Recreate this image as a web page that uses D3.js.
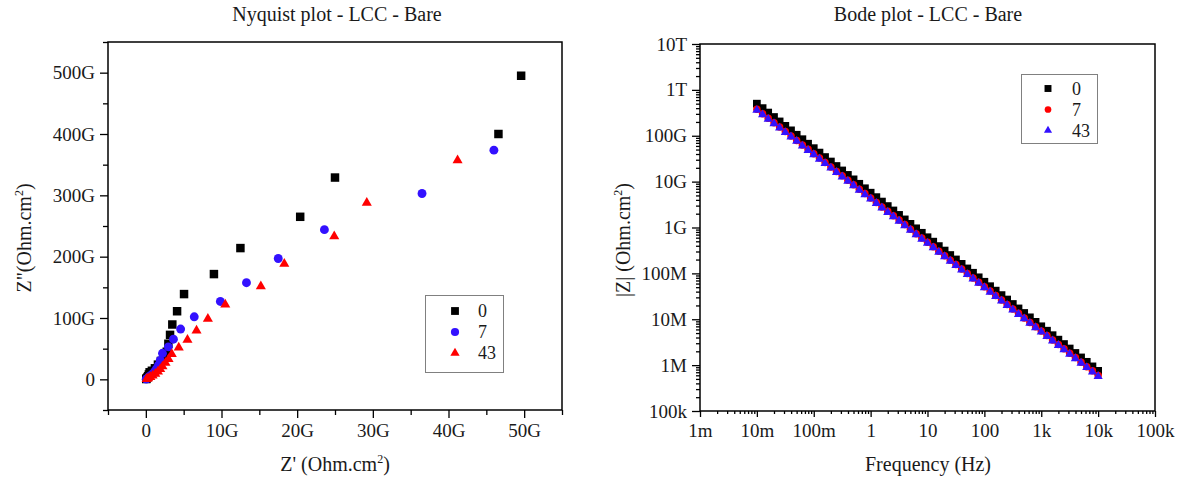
<!DOCTYPE html>
<html>
<head>
<meta charset="utf-8">
<script src="https://cdn.jsdelivr.net/npm/d3@7"></script>
<style>
  html, body { margin: 0; padding: 0; background: #fff; }
  svg { display: block; }
  text { font-family: "Liberation Serif", "Times New Roman", serif; fill: #1a1a1a; }
</style>
</head>
<body>
<svg id="chart" width="1186" height="482"></svg>
<script>
// ---------------- DATA ----------------
const seriesNames = ["0", "7", "43"];

// Nyquist (values in G Ohm.cm2)
const nyqZre0 = [49.6, 46.6, 25.0, 20.4, 12.5, 9.0, 5.05, 4.13, 3.5, 3.2, 2.98, 2.77, 2.4, 2.0, 1.6, 1.2, 0.8, 0.5, 0.4, 0.3, 0.2, 0.1, 0.05];
const nyqZim0 = [495, 400, 329, 265, 214, 171.6, 139, 111, 89.4, 72.5, 58, 45, 37, 30, 24, 18, 14, 11.5, 8, 5, 3, 1.5, 0.5];
const nyqZre7 = [46.0, 36.5, 23.6, 17.5, 13.3, 9.85, 6.4, 4.6, 3.65, 2.98, 2.2, 1.9, 1.67, 1.4, 1.2, 0.9, 0.6, 0.35, 0.15, 0.05];
const nyqZim7 = [373.7, 303, 244, 197, 157.5, 127, 102, 82, 65.4, 53, 42.5, 31, 23, 17, 13, 9, 6, 3.5, 1.2, 0.3];
const nyqZre43 = [41.2, 29.2, 24.9, 18.3, 15.2, 10.5, 8.2, 6.7, 5.5, 4.35, 3.43, 3.0, 2.6, 2.2, 1.9, 1.6, 1.25, 0.9, 0.6, 0.3, 0.1];
const nyqZim43 = [357, 287.6, 233, 188.5, 151.5, 122, 98.7, 79.6, 64.4, 51.8, 41, 33, 27, 21, 16.5, 12.5, 9, 6, 3.5, 1.5, 0.4];

const nyqXTicks = [0, 10, 20, 30, 40, 50];
const nyqXTickLabels = ["0", "10G", "20G", "30G", "40G", "50G"];
const nyqXMinor = [-5, 5, 15, 25, 35, 45, 55];
const nyqYTicks = [0, 100, 200, 300, 400, 500];
const nyqYTickLabels = ["0", "100G", "200G", "300G", "400G", "500G"];
const nyqYMinor = [-50, 50, 150, 250, 350, 450, 550];

// Bode
const freqs = [0.01,0.0126,0.0158,0.02,0.0251,0.0316,0.0398,0.0501,0.0631,0.0794,
  0.1,0.126,0.158,0.2,0.251,0.316,0.398,0.501,0.631,0.794,
  1,1.26,1.58,2,2.51,3.16,3.98,5.01,6.31,7.94,
  10,12.6,15.8,20,25.1,31.6,39.8,50.1,63.1,79.4,
  100,126,158,200,251,316,398,501,631,794,
  1000,1260,1580,2000,2510,3160,3980,5010,6310,7940,
  10000];
const zmod0 = [5.0e11,4.0e11,3.2e11,2.56e11,2.05e11,1.64e11,1.31e11,1.05e11,8.4e10,6.7e10,
  5.36e10,4.29e10,3.43e10,2.74e10,2.19e10,1.75e10,1.40e10,1.12e10,8.96e9,7.16e9,
  5.73e9,4.59e9,3.67e9,2.93e9,2.35e9,1.88e9,1.50e9,1.20e9,9.59e8,7.66e8,
  6.13e8,4.91e8,3.93e8,3.14e8,2.51e8,2.01e8,1.61e8,1.28e8,1.03e8,8.20e7,
  6.56e7,5.25e7,4.20e7,3.36e7,2.69e7,2.15e7,1.72e7,1.37e7,1.10e7,8.77e6,
  7.02e6,5.62e6,4.49e6,3.59e6,2.88e6,2.30e6,1.84e6,1.47e6,1.18e6,9.38e5,
  7.5e5];
const zmod7 = [3.77e11,3.02e11,2.41e11,1.93e11,1.55e11,1.24e11,9.9e10,7.9e10,6.3e10,5.1e10,
  4.07e10,3.26e10,2.60e10,2.08e10,1.67e10,1.34e10,1.07e10,8.5e9,6.8e9,5.5e9,
  4.40e9,3.52e9,2.81e9,2.25e9,1.80e9,1.45e9,1.16e9,9.2e8,7.3e8,5.9e8,
  4.75e8,3.80e8,3.04e8,2.43e8,1.94e8,1.56e8,1.25e8,9.9e7,7.9e7,6.4e7,
  5.13e7,4.11e7,3.28e7,2.62e7,2.10e7,1.68e7,1.35e7,1.07e7,8.5e6,6.9e6,
  5.54e6,4.44e6,3.54e6,2.83e6,2.27e6,1.81e6,1.46e6,1.16e6,9.2e5,7.5e5,
  5.98e5];
const zmod43 = [3.6e11,2.88e11,2.30e11,1.84e11,1.48e11,1.18e11,9.5e10,7.6e10,6.0e10,4.8e10,
  3.89e10,3.11e10,2.49e10,1.99e10,1.59e10,1.27e10,1.02e10,8.2e9,6.5e9,5.2e9,
  4.20e9,3.36e9,2.69e9,2.15e9,1.72e9,1.38e9,1.10e9,8.8e8,7.0e8,5.6e8,
  4.54e8,3.63e8,2.90e8,2.32e8,1.86e8,1.49e8,1.19e8,9.5e7,7.6e7,6.1e7,
  4.90e7,3.92e7,3.14e7,2.51e7,2.01e7,1.61e7,1.28e7,1.03e7,8.2e6,6.6e6,
  5.29e6,4.24e6,3.39e6,2.71e6,2.17e6,1.73e6,1.39e6,1.11e6,8.9e5,7.1e5,
  5.71e5];

const bodeXTicks = [1e-3, 1e-2, 1e-1, 1, 10, 100, 1e3, 1e4, 1e5];
const bodeXTickLabels = ["1m", "10m", "100m", "1", "10", "100", "1k", "10k", "100k"];
const bodeYTicks = [1e5, 1e6, 1e7, 1e8, 1e9, 1e10, 1e11, 1e12, 1e13];
const bodeYTickLabels = ["100k", "1M", "10M", "100M", "1G", "10G", "100G", "1T", "10T"];

// ---------------- DRAW ----------------
const svg = d3.select("#chart");
const BLACK = "#000000", BLUE = "#3311ff", RED = "#ff0000";
const TICK_FONT = 19;
const FONT = '"Liberation Serif", "Times New Roman", serif';

function minorLog(lo, hi) {
  const out = [];
  for (let e = lo; e < hi; e++) for (let m = 2; m <= 9; m++) out.push(m * Math.pow(10, e));
  return out;
}

function drawFrame(g, x0, x1, y0, y1) {
  g.append("rect").attr("x", x0).attr("y", y0).attr("width", x1 - x0).attr("height", y1 - y0)
    .attr("fill", "none").attr("stroke", "#000").attr("stroke-width", 1.5);
}

function styleAxis(sel) {
  sel.select(".domain").remove();
  sel.attr("font-family", FONT);
  sel.selectAll(".tick line").attr("stroke", "#000").attr("stroke-width", 1.3);
  sel.selectAll(".tick text").style("font-size", TICK_FONT + "px")
    .style("font-family", FONT).attr("fill", "#1a1a1a");
}

function bottomAxis(g, scale, yPos, ticks, labels, minor, majorLen, minorLen, labelBase) {
  const ax = g.append("g").attr("transform", `translate(0,${yPos})`)
    .call(d3.axisBottom(scale).tickValues(ticks).tickFormat((d, i) => labels[i]).tickSize(majorLen).tickSizeOuter(0));
  styleAxis(ax);
  ax.selectAll(".tick text").attr("y", labelBase - yPos).attr("dy", 0);
  const mi = g.append("g").attr("transform", `translate(0,${yPos})`)
    .call(d3.axisBottom(scale).tickValues(minor).tickFormat("").tickSize(minorLen).tickSizeOuter(0));
  styleAxis(mi);
}

function leftAxis(g, scale, xPos, ticks, labels, minor, majorLen, minorLen, pad) {
  const ax = g.append("g").attr("transform", `translate(${xPos},0)`)
    .call(d3.axisLeft(scale).tickValues(ticks).tickFormat((d, i) => labels[i]).tickSize(majorLen).tickPadding(pad).tickSizeOuter(0));
  styleAxis(ax);
  const mi = g.append("g").attr("transform", `translate(${xPos},0)`)
    .call(d3.axisLeft(scale).tickValues(minor).tickFormat("").tickSize(minorLen).tickSizeOuter(0));
  styleAxis(mi);
}

function axisTitle(g, x, y, main, tail, rotate) {
  const t = g.append("text").attr("text-anchor", "middle").style("font-size", "20px").style("font-family", FONT)
    .attr("transform", rotate ? `translate(${x},${y}) rotate(-90)` : `translate(${x},${y})`);
  t.append("tspan").text(main);
  t.append("tspan").attr("dy", -8).style("font-size", "12px").text("2");
  t.append("tspan").attr("dy", 8).text(tail);
}

function sym(type, size) { return d3.symbol().type(type).size(size)(); }

// ---- Nyquist ----
const nL = 108, nR = 562, nT = 42, nB = 410;
const nx = d3.scaleLinear().domain([-5, 55]).range([nL, nR]);
const ny = d3.scaleLinear().domain([-50, 550]).range([nB, nT]);
const gN = svg.append("g");

gN.append("text").attr("x", 337).attr("y", 21).attr("text-anchor", "middle")
  .style("font-size", "20px").style("font-family", FONT).text("Nyquist plot - LCC - Bare");

bottomAxis(gN, nx, nB, nyqXTicks, nyqXTickLabels, nyqXMinor, 8, 5, 437);
leftAxis(gN, ny, nL, nyqYTicks, nyqYTickLabels, nyqYMinor, 8, 5, 5);
drawFrame(gN, nL, nR, nT, nB);
axisTitle(gN, 335, 471, "Z' (Ohm.cm", ")", false);
axisTitle(gN, 31, 238, 'Z"(Ohm.cm', ")", true);

const nyqSeries = [
  { re: nyqZre0, im: nyqZim0, shape: d3.symbolSquare, size: 72, color: BLACK },
  { re: nyqZre7, im: nyqZim7, shape: d3.symbolCircle, size: 62, color: BLUE },
  { re: nyqZre43, im: nyqZim43, shape: d3.symbolTriangle, size: 44, color: RED }
];
nyqSeries.forEach(s => {
  gN.append("g").selectAll("path").data(s.re.map((r, i) => [r, s.im[i]])).join("path")
    .attr("d", sym(s.shape, s.size)).attr("fill", s.color)
    .attr("transform", d => `translate(${nx(d[0])},${ny(d[1])})`);
});

// Nyquist legend
const lgN = gN.append("g");
lgN.append("rect").attr("x", 425.5).attr("y", 295.5).attr("width", 78).attr("height", 77)
  .attr("fill", "#fff").attr("stroke", "#808080").attr("stroke-width", 1);
nyqSeries.forEach((s, i) => {
  const yy = 311 + i * 21;
  lgN.append("path").attr("d", sym(s.shape, s.size * 0.85)).attr("fill", s.color).attr("transform", `translate(455,${yy})`);
  lgN.append("text").attr("x", 478).attr("y", yy + 6).style("font-size", "18px").style("font-family", FONT).text(seriesNames[i]);
});

// ---- Bode ----
const bL = 700, bR = 1155, bT = 44, bB = 411;
const bx = d3.scaleLog().domain([1e-3, 1e5]).range([bL, bR]);
const by = d3.scaleLog().domain([1e5, 1e13]).range([bB, bT]);
const gB = svg.append("g");

gB.append("text").attr("x", 928).attr("y", 21).attr("text-anchor", "middle")
  .style("font-size", "20px").style("font-family", FONT).text("Bode plot - LCC - Bare");

bottomAxis(gB, bx, bB, bodeXTicks, bodeXTickLabels, minorLog(-3, 5), 6, 3, 437);
leftAxis(gB, by, bL, bodeYTicks, bodeYTickLabels, minorLog(5, 13), 8, 4, 5);
drawFrame(gB, bL, bR, bT, bB);
gB.append("text").attr("x", 928).attr("y", 471).attr("text-anchor", "middle")
  .style("font-size", "20px").style("font-family", FONT).text("Frequency (Hz)");
axisTitle(gB, 630, 240, "|Z| (Ohm.cm", ")", true);

const bodeSeries = [
  { z: zmod0, shape: d3.symbolSquare, size: 60, color: BLACK },
  { z: zmod7, shape: d3.symbolCircle, size: 44, color: RED },
  { z: zmod43, shape: d3.symbolTriangle, size: 36, color: BLUE }
];
bodeSeries.forEach(s => {
  gB.append("g").selectAll("path").data(freqs.map((f, i) => [f, s.z[i]])).join("path")
    .attr("d", sym(s.shape, s.size)).attr("fill", s.color)
    .attr("transform", d => `translate(${bx(d[0])},${by(d[1])})`);
});

const lgB = gB.append("g");
lgB.append("rect").attr("x", 1021.5).attr("y", 74.5).attr("width", 76).attr("height", 69)
  .attr("fill", "#fff").attr("stroke", "#808080").attr("stroke-width", 1);
bodeSeries.forEach((s, i) => {
  const yy = 88.5 + i * 21;
  lgB.append("path").attr("d", sym(s.shape, s.size * 0.8)).attr("fill", s.color).attr("transform", `translate(1048,${yy})`);
  lgB.append("text").attr("x", 1072).attr("y", yy + 6).style("font-size", "18px").style("font-family", FONT).text(seriesNames[i]);
});
</script>
</body>
</html>
